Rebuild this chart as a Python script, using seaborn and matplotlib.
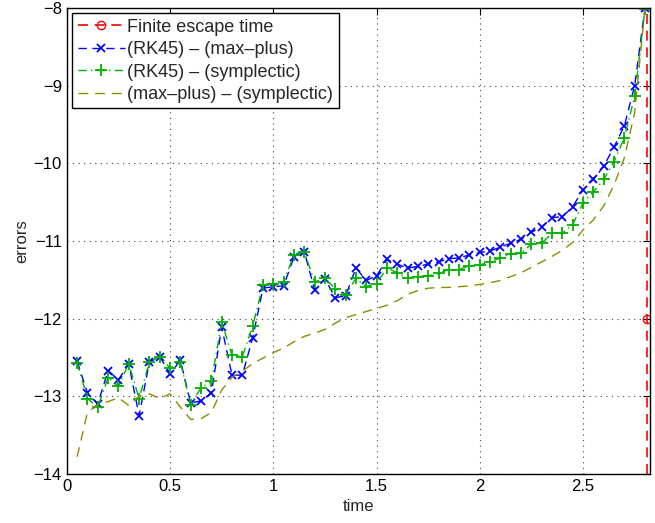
import numpy as np
import pandas as pd
import matplotlib
matplotlib.use("Agg")
import matplotlib.pyplot as plt
import seaborn as sns

# sample times of the error curves
time = [0.05, 0.10, 0.15, 0.20, 0.25, 0.30, 0.35, 0.40, 0.45, 0.50,
        0.55, 0.60, 0.65, 0.70, 0.75, 0.80, 0.85, 0.90, 0.95, 1.00,
        1.05, 1.10, 1.15, 1.20, 1.25, 1.30, 1.35, 1.40, 1.45, 1.50,
        1.55, 1.60, 1.65, 1.70, 1.75, 1.80, 1.85, 1.90, 1.95, 2.00,
        2.05, 2.10, 2.15, 2.20, 2.25, 2.30, 2.35, 2.40, 2.45, 2.50,
        2.55, 2.60, 2.65, 2.70, 2.75, 2.80]

# (RK45) - (max-plus)
err_rk_mp = [-12.55, -12.96, -13.10, -12.67, -12.79, -12.58, -13.25, -12.56, -12.49, -12.71,
             -12.54, -13.09, -13.06, -12.96, -12.11, -12.73, -12.73, -12.25, -11.61, -11.59,
             -11.58, -11.21, -11.14, -11.63, -11.49, -11.73, -11.71, -11.35, -11.51, -11.45,
             -11.24, -11.30, -11.35, -11.33, -11.30, -11.27, -11.23, -11.22, -11.18, -11.15,
             -11.13, -11.08, -11.03, -10.98, -10.89, -10.82, -10.70, -10.69, -10.56, -10.34,
             -10.21, -10.04, -9.79, -9.52, -9.00, -8.00]

# (RK45) - (symplectic)
err_rk_sy = [-12.57, -13.03, -13.14, -12.76, -12.87, -12.58, -13.03, -12.56, -12.49, -12.64,
             -12.56, -13.11, -12.89, -12.81, -12.05, -12.47, -12.49, -12.10, -11.57, -11.55,
             -11.53, -11.18, -11.14, -11.53, -11.48, -11.62, -11.70, -11.48, -11.59, -11.55,
             -11.35, -11.41, -11.48, -11.46, -11.45, -11.42, -11.37, -11.37, -11.32, -11.31,
             -11.27, -11.22, -11.17, -11.16, -11.04, -11.03, -10.90, -10.90, -10.79, -10.51,
             -10.37, -10.21, -9.98, -9.67, -9.14, -8.02]

# (max-plus) - (symplectic)
err_mp_sy = [-13.78, -13.21, -13.11, -13.07, -13.02, -13.12, -13.00, -12.97, -13.03, -12.97,
             -13.14, -13.30, -13.29, -13.21, -12.92, -12.76, -12.68, -12.58, -12.51, -12.44,
             -12.38, -12.30, -12.23, -12.19, -12.14, -12.06, -11.99, -11.95, -11.91, -11.87,
             -11.83, -11.77, -11.69, -11.64, -11.61, -11.60, -11.60, -11.59, -11.58, -11.56,
             -11.54, -11.51, -11.46, -11.41, -11.34, -11.27, -11.20, -11.12, -11.02, -10.86,
             -10.73, -10.55, -10.28, -9.93, -9.35, -8.00]

escape_time = 2.81
escape_y = [-14, -12, -8]

df = pd.DataFrame({"time": time, "rk_mp": err_rk_mp, "rk_sy": err_rk_sy, "mp_sy": err_mp_sy})
dfesc = pd.DataFrame({"time": [escape_time] * len(escape_y), "err": escape_y})

sns.set_style("white")
plt.rcParams['font.family'] = ['Liberation Sans', 'DejaVu Sans']

fig = plt.figure(figsize=(6.55, 5.23), dpi=100)
ax = fig.add_axes([0.102, 0.094, 0.890, 0.891])

red = "#ff0000"
blue = "#0000ff"
green = "#00b000"
olive = "#8c8c00"

sns.lineplot(data=dfesc, x="time", y="err", ax=ax, estimator=None, sort=False,
             color=red, dashes=(6, 4), linewidth=1.2, marker="o", markevery=[1],
             markersize=6, markerfacecolor="none", markeredgecolor=red,
             markeredgewidth=1.0, label="Finite escape time")
sns.lineplot(data=df, x="time", y="rk_mp", ax=ax, color=blue, dashes=(6, 4),
             linewidth=1.0, marker="x", markersize=6, markeredgewidth=1.3,
             markeredgecolor=blue, label="(RK45) \u2013 (max\u2013plus)")
sns.lineplot(data=df, x="time", y="rk_sy", ax=ax, color=green, dashes=(6, 3, 1, 3),
             linewidth=1.0, marker="+", markersize=8, markeredgewidth=1.3,
             markeredgecolor=green, label="(RK45) \u2013 (symplectic)")
sns.lineplot(data=df, x="time", y="mp_sy", ax=ax, color=olive, dashes=(7, 5),
             linewidth=1.0, label="(max\u2013plus) \u2013 (symplectic)")

ax.set_xlim(0, 2.823)
ax.set_ylim(-14, -8)
ax.set_xticks([0, 0.5, 1, 1.5, 2, 2.5])
ax.set_xticklabels(["0", "0.5", "1", "1.5", "2", "2.5"])
ax.set_yticks([-14, -13, -12, -11, -10, -9, -8])
ax.grid(True, linestyle=(0, (1, 4)), color="#444444", linewidth=0.8)
ax.tick_params(direction="in", top=True, right=True, length=5, width=0.8,
               labelsize=12, colors="black")
for s in ax.spines.values():
    s.set_color("black")
    s.set_linewidth(1.0)
ax.set_xlabel("time", fontsize=12, labelpad=4)
ax.set_ylabel("errors", fontsize=12, labelpad=3)

leg = ax.legend(loc="upper left", fontsize=13, frameon=True, fancybox=False,
                edgecolor="black", handlelength=2.6, handletextpad=0.15,
                borderpad=0.3, labelspacing=0.3, borderaxespad=0.3)
leg.get_frame().set_linewidth(1.0)
leg.get_frame().set_alpha(1.0)

fig.savefig("out.png", dpi=100)
